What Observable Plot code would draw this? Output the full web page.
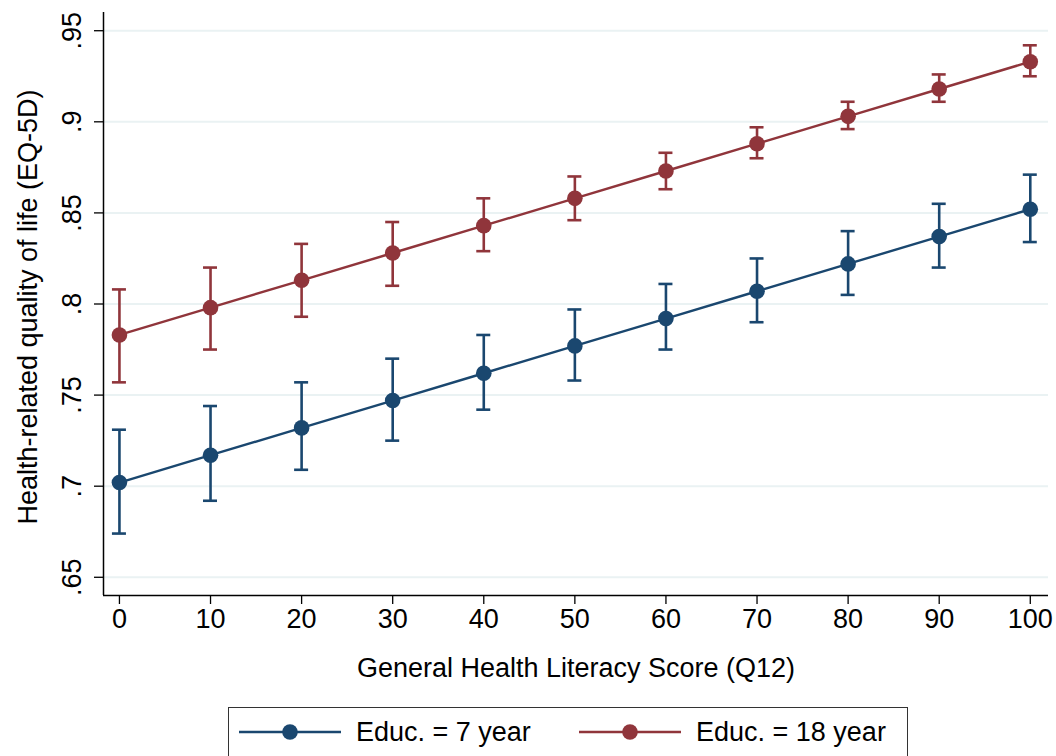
<!DOCTYPE html>
<html>
<head>
<meta charset="utf-8">
<script src="https://cdn.jsdelivr.net/npm/d3@7"></script>
<script src="https://cdn.jsdelivr.net/npm/@observablehq/plot@0.6"></script>
<style>
  html, body { margin: 0; padding: 0; background: #fff; }
  body { width: 1056px; height: 756px; overflow: hidden; font-family: "Liberation Sans", Arial, sans-serif; }
  #chart g[aria-label$="tick label"] { font-size: 27px; }
  #legend { position: absolute; left: 228px; top: 707px; width: 680px; height: 60px; border: 1.5px solid #333; box-sizing: border-box; }
  .item { position: absolute; top: 9px; display: flex; align-items: center; font-size: 27px; color: #000; line-height: 30px; }
  .item svg { margin-right: 15px; }
</style>
</head>
<body>
<div id="chart"></div>
<div id="legend"></div>
<script>
const scores = [0, 10, 20, 30, 40, 50, 60, 70, 80, 90, 100];
const seriesNames = ["Educ. = 7 year", "Educ. = 18 year"];
const seriesColors = ["#1a476f", "#90353b"];

const edu7Mean = [0.702, 0.717, 0.732, 0.747, 0.762, 0.777, 0.792, 0.807, 0.822, 0.837, 0.852];
const edu7Lo   = [0.674, 0.692, 0.709, 0.725, 0.742, 0.758, 0.775, 0.790, 0.805, 0.820, 0.834];
const edu7Hi   = [0.731, 0.744, 0.757, 0.770, 0.783, 0.797, 0.811, 0.825, 0.840, 0.855, 0.871];

const edu18Mean = [0.783, 0.798, 0.813, 0.828, 0.843, 0.858, 0.873, 0.888, 0.903, 0.918, 0.933];
const edu18Lo   = [0.757, 0.775, 0.793, 0.810, 0.829, 0.846, 0.863, 0.880, 0.896, 0.911, 0.925];
const edu18Hi   = [0.808, 0.820, 0.833, 0.845, 0.858, 0.870, 0.883, 0.897, 0.911, 0.926, 0.942];

const yTicks = [0.65, 0.7, 0.75, 0.8, 0.85, 0.9, 0.95];
const xTicks = scores;
const xTitle = "General Health Literacy Score (Q12)";
const yTitle = "Health-related quality of life (EQ-5D)";

const rows = [];
scores.forEach((s, i) => {
  rows.push({x: s, y: edu7Mean[i], lo: edu7Lo[i], hi: edu7Hi[i], series: seriesNames[0]});
  rows.push({x: s, y: edu18Mean[i], lo: edu18Lo[i], hi: edu18Hi[i], series: seriesNames[1]});
});

const fmtY = d => d3.format(".2~f")(d).replace(/^0/, "");

const chart = Plot.plot({
  width: 1056,
  height: 700,
  marginTop: 12,
  marginBottom: 105,
  marginLeft: 103,
  marginRight: 8,
  style: {fontFamily: "'Liberation Sans', Arial, sans-serif", fontSize: "26px", color: "#000", background: "#fff"},
  x: {domain: [-1.75, 102]},
  y: {domain: [0.64, 0.96]},
  color: {domain: seriesNames, range: seriesColors},
  marks: [
    Plot.gridY(yTicks, {stroke: "#eaf2f3", strokeOpacity: 1, strokeWidth: 2}),
    Plot.axisY({ticks: yTicks, tickFormat: fmtY, tickSize: 9, tickPadding: 14, tickRotate: -90, fontSize: 27, stroke: "#000", strokeWidth: 1.3, label: null}),
    Plot.axisX({ticks: xTicks, tickSize: 9, tickPadding: 4, fontSize: 27, stroke: "#000", strokeWidth: 1.3, label: null}),
    Plot.text([xTitle], {frameAnchor: "bottom", dy: 73, fontSize: 27, lineAnchor: "middle", textAnchor: "middle", fill: "#000"}),
    Plot.text([yTitle], {frameAnchor: "left", dx: -75, dy: 3, rotate: -90, fontSize: 27, lineAnchor: "middle", textAnchor: "middle", fill: "#000"}),
    Plot.ruleX([0], {x: -1.75, y1: 0.64, y2: 0.96, stroke: "#000", strokeWidth: 1.5}),
    Plot.ruleY([0.64], {stroke: "#000", strokeWidth: 1.5}),
    Plot.ruleX(rows, {x: "x", y1: "lo", y2: "hi", stroke: "series", strokeWidth: 2.6}),
    Plot.ruleY(rows, {y: "lo", x1: "x", x2: "x", insetLeft: -7, insetRight: -7, stroke: "series", strokeWidth: 2.6}),
    Plot.ruleY(rows, {y: "hi", x1: "x", x2: "x", insetLeft: -7, insetRight: -7, stroke: "series", strokeWidth: 2.6}),
    Plot.line(rows, {x: "x", y: "y", z: "series", stroke: "series", strokeWidth: 2.4}),
    Plot.dot(rows, {x: "x", y: "y", fill: "series", r: 7.8, stroke: "none"})
  ]
});
document.getElementById("chart").appendChild(chart);

const legend = document.getElementById("legend");
const lefts = [10, 350];
seriesNames.forEach((name, i) => {
  const item = document.createElement("div");
  item.className = "item";
  item.style.left = lefts[i] + "px";
  item.innerHTML = `<svg width="102" height="20"><line x1="0" x2="102" y1="10" y2="10" stroke="${seriesColors[i]}" stroke-width="2.4"/><circle cx="51" cy="10" r="7.8" fill="${seriesColors[i]}"/></svg><span>${name}</span>`;
  legend.appendChild(item);
});
</script>
</body>
</html>
